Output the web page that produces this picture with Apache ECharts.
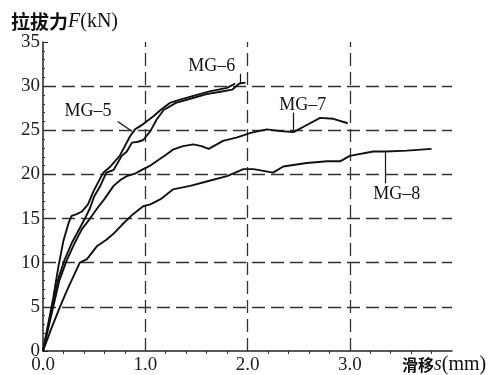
<!DOCTYPE html>
<html>
<head>
<meta charset="utf-8">
<script src="https://cdn.jsdelivr.net/npm/echarts@6/dist/echarts.min.js"></script>
<style>html,body{margin:0;padding:0;background:#fff}#c{width:493px;height:375px}</style>
</head>
<body>
<div id="c"></div>
<script>
// ---- data (slip s in mm, pull-out force F in kN) ----
var mg5 = [[0,0],[0.05,3],[0.1,6],[0.15,9.5],[0.2,12.5],[0.25,14.5],[0.28,15.3],[0.33,15.5],[0.38,15.8],[0.44,16.6],[0.49,18],[0.53,18.9],[0.59,20.2],[0.66,20.9],[0.75,22.1],[0.85,24.3],[0.9,25.1],[0.98,25.7],[1.08,26.6],[1.15,27.3],[1.24,28.1],[1.35,28.5],[1.47,28.9],[1.63,29.4],[1.8,29.8],[1.88,30.3]];
var mg6 = [[0,0],[0.05,2.8],[0.1,5.5],[0.15,8.2],[0.21,10.3],[0.28,12.2],[0.35,13.7],[0.41,15],[0.46,16.2],[0.5,17.5],[0.56,18.7],[0.62,20.2],[0.69,20.5],[0.77,22.1],[0.82,22.6],[0.87,23.6],[0.93,23.7],[0.98,23.9],[1.05,24.9],[1.11,26.2],[1.18,27.3],[1.3,28.1],[1.45,28.6],[1.6,29.1],[1.75,29.4],[1.85,29.6],[1.92,30.3],[1.98,30.4]];
var mg7 = [[0,0],[0.05,2.5],[0.1,5],[0.16,8],[0.23,10.2],[0.3,12],[0.38,13.8],[0.46,15],[0.52,16],[0.6,17.2],[0.69,18.7],[0.76,19.4],[0.82,19.8],[0.9,20.1],[0.98,20.6],[1.05,21],[1.11,21.5],[1.2,22.2],[1.27,22.8],[1.37,23.2],[1.47,23.4],[1.55,23.2],[1.62,22.9],[1.7,23.4],[1.76,23.8],[1.9,24.2],[2.03,24.7],[2.19,25.1],[2.32,24.9],[2.45,24.8],[2.58,25.6],[2.71,26.4],[2.84,26.3],[2.98,25.8]];
var mg8 = [[0,0],[0.08,2.5],[0.17,5.1],[0.24,7],[0.3,8.5],[0.36,10],[0.43,10.4],[0.53,11.9],[0.62,12.6],[0.7,13.4],[0.79,14.5],[0.88,15.5],[0.98,16.4],[1.05,16.6],[1.15,17.2],[1.27,18.3],[1.44,18.7],[1.6,19.2],[1.8,19.8],[1.96,20.6],[2.06,20.6],[2.25,20.2],[2.35,20.9],[2.58,21.3],[2.78,21.5],[2.91,21.5],[3.0,22.1],[3.23,22.6],[3.35,22.6],[3.56,22.7],[3.8,22.9]];
var seriesNames = ['MG–5','MG–6','MG–7','MG–8'];
var xGridValues = [1, 2, 3];
var yGridValues = [5, 10, 15, 20, 25, 30];
// label anchor [x, y] and leader line [[x1,y1],[x2,y2]] in data units
var labelPos = [[0.44, 27.1], [1.65, 32.2], [2.54, 27.8], [3.46, 17.8]];
var leaders = [
  [[0.73, 26.0], [0.87, 24.9]],
  [[1.93, 31.4], [1.93, 30.3]],
  [[2.45, 27.0], [2.45, 24.8]],
  [[3.35, 22.6], [3.35, 19.0]]
];

var serif = '"Liberation Serif","DejaVu Serif",serif';
var cjk = '"Noto Sans CJK SC",sans-serif';
var dataSets = [mg5, mg6, mg7, mg8];

var series = dataSets.map(function (d, i) {
  return {
    name: seriesNames[i],
    type: 'line',
    data: d,
    symbol: 'none',
    smooth: false,
    lineStyle: { color: '#111', width: 1.9 },
    silent: true,
    z: 5,
    markPoint: {
      symbol: 'circle', symbolSize: 0,
      label: { show: true, position: 'inside', formatter: seriesNames[i], color: '#111', fontFamily: serif, fontSize: 18 },
      data: [{ coord: labelPos[i] }]
    },
    markLine: {
      symbol: ['none', 'none'], silent: true,
      lineStyle: { color: '#111', width: 1.2, type: 'solid' },
      label: { show: false },
      data: [[{ coord: leaders[i][0] }, { coord: leaders[i][1] }]]
    }
  };
});

// dashed grid lines
series.push({
  type: 'line', data: [], silent: true, z: 2,
  markLine: {
    symbol: ['none', 'none'], silent: true,
    lineStyle: { color: '#333', width: 1.3, type: [13, 6] },
    label: { show: false },
    data: xGridValues.map(function (v) { return { xAxis: v }; })
      .concat(yGridValues.map(function (v) { return { yAxis: v }; }))
  }
});

var chart = echarts.init(document.getElementById('c'), null, { renderer: 'canvas' });
chart.setOption({
  animation: false,
  backgroundColor: '#fff',
  title: [
    {
      left: 6, top: 7,
      text: '{c|拉拔力}{i|F}{n|(kN)}',
      textStyle: {
        fontWeight: 'normal',
        rich: {
          c: { fontFamily: cjk, fontSize: 19, fontWeight: 'bold', color: '#111' },
          i: { fontFamily: serif, fontSize: 20, fontStyle: 'italic', fontWeight: 'normal', color: '#111' },
          n: { fontFamily: serif, fontSize: 20, fontWeight: 'normal', color: '#111' }
        }
      }
    },
    {
      left: 397, top: 350,
      text: '{c|滑移}{i|s}{n|(mm)}',
      textStyle: {
        fontWeight: 'normal',
        rich: {
          c: { fontFamily: cjk, fontSize: 16, fontWeight: 'bold', color: '#111' },
          i: { fontFamily: serif, fontSize: 20, fontStyle: 'italic', fontWeight: 'normal', color: '#111' },
          n: { fontFamily: serif, fontSize: 20, fontWeight: 'normal', color: '#111' }
        }
      }
    }
  ],
  grid: { left: 43, right: 41, top: 42, bottom: 23, containLabel: false },
  xAxis: {
    type: 'value', min: 0, max: 4, interval: 1,
    axisLine: { show: true, lineStyle: { color: '#222', width: 1.5 } },
    axisTick: { show: false },
    minorTick: { show: true, splitNumber: 5, length: 3, lineStyle: { color: '#333' } },
    splitLine: { show: false },
    axisLabel: {
      color: '#222', fontFamily: serif, fontSize: 19, margin: 5,
      formatter: function (v) { return v >= 4 ? '' : v.toFixed(1); }
    }
  },
  yAxis: {
    type: 'value', min: 0, max: 35, interval: 5,
    axisLine: { show: true, lineStyle: { color: '#222', width: 1.5 } },
    axisTick: { show: true, inside: true, length: 5, lineStyle: { color: '#222' } },
    minorTick: { show: true, splitNumber: 5, length: 2, lineStyle: { color: '#333' } },
    splitLine: { show: false },
    axisLabel: { color: '#222', fontFamily: serif, fontSize: 19, margin: 3 }
  },
  series: series
});
</script>
</body>
</html>
